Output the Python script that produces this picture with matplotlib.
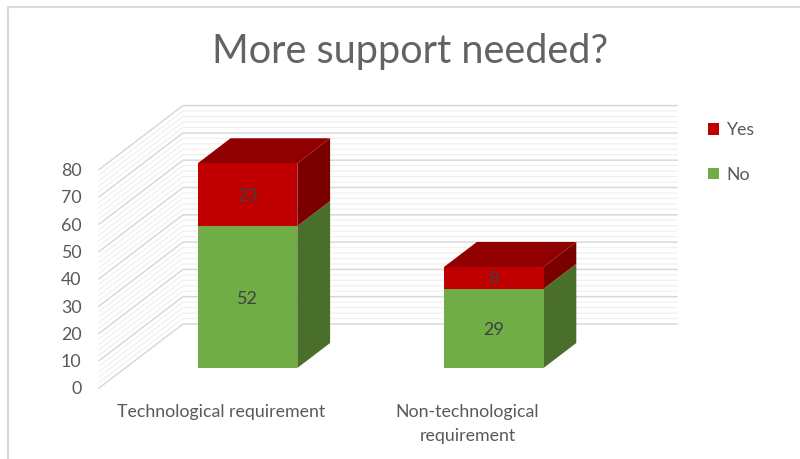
import matplotlib
matplotlib.use("Agg")
import matplotlib.pyplot as plt
from matplotlib.lines import Line2D
from matplotlib.patches import Patch

categories = ["Technological requirement", "Non-technological\nrequirement"]
no_values = [52, 29]
yes_values = [23, 8]
y_ticks = [0, 10, 20, 30, 40, 50, 60, 70, 80]
title = "More support needed?"

W, H = 800, 459
plt.rcParams["font.family"] = ["Lato", "DejaVu Sans"]
fig = plt.figure(figsize=(W / 100, H / 100), dpi=100, facecolor="white")

# plot box in pixels: left, right, top, bottom
L, R, T, B = 99, 677, 105, 388
PX_PER_UNIT = 2.73
ax = fig.add_axes([L / W, 1 - B / H, (R - L) / W, (B - T) / H])
ax.set_xlim(L, R)
ax.set_ylim(0, (B - T) / PX_PER_UNIT)
ax.patch.set_visible(False)
for s in ax.spines.values():
    s.set_visible(False)

# oblique projection: depth d in [0, 1]
WALL_DX, WALL_DY = 84, 64 / PX_PER_UNIT


def proj(x, v, d):
    return x + WALL_DX * d, v + WALL_DY * d


# gridlines on side wall and back wall
for v in range(0, 81, 2):
    major = v % 10 == 0
    c = "#d9d9d9" if major else "#f0f0f0"
    lw = 1.1 if major else 0.9
    x0, y0 = proj(L, v, 0)
    x1, y1 = proj(L, v, 1)
    ax.plot([x0, x1, R], [y0, y1, y1], color=c, lw=lw, zorder=2 if major else 1,
            solid_joinstyle="miter", clip_on=False)

# 3D stacked bars
BAR_W = 99.5
D0, D1 = 0.3125, 0.703
centers = [221.3, 467.5]


def box(cx, v0, v1, front, side, top=None):
    xl, xr = cx - BAR_W / 2, cx + BAR_W / 2
    a = proj(xl, v0, D0)
    b = proj(xr, v0, D0)
    c = proj(xr, v1, D0)
    d = proj(xl, v1, D0)
    e = proj(xr, v0, D1)
    f = proj(xr, v1, D1)
    g = proj(xl, v1, D1)
    ax.fill(*zip(a, b, c, d), color=front, lw=0, zorder=5)
    ax.fill(*zip(b, e, f, c), color=side, lw=0, zorder=4)
    if top:
        ax.fill(*zip(d, c, f, g), color=top, lw=0, zorder=4)


LABEL_NUDGE = 1.5 / PX_PER_UNIT
for cx, n, y in zip(centers, no_values, yes_values):
    box(cx, 0, n, "#70AD47", "#4A6F2B")
    box(cx, n, n + y, "#C00000", "#7A0000", "#900000")
    tx = proj(cx, 0, D0)[0]
    ax.text(tx, proj(cx, n / 2, D0)[1] - LABEL_NUDGE, str(n), ha="center", va="center",
            fontsize=13, color="#404040", zorder=6)
    ax.text(tx, proj(cx, n + y / 2, D0)[1] - LABEL_NUDGE, str(y), ha="center", va="center",
            fontsize=13, color="#404040", zorder=6)

# axis labels
ax.set_yticks(y_ticks)
ax.set_yticklabels([str(t) for t in y_ticks], fontsize=12.8, color="#595959")
ax.set_xticks(centers)
ax.set_xticklabels(categories, fontsize=12.8, color="#595959", linespacing=1.62)
ax.tick_params(axis="y", length=0, pad=12.5)
ax.tick_params(axis="x", length=0, pad=11.5)
ax.grid(False)

ax.set_title(title, fontsize=28.5, color="#636363", x=(410 - L) / (R - L), pad=30.5)

# legend
handles = [Patch(facecolor="#C00000", label="Yes"), Patch(facecolor="#70AD47", label="No")]
fig.legend(handles=handles, loc="upper left", bbox_to_anchor=(701 / W, 1 - 115 / H),
           frameon=False, fontsize=12.8, labelcolor="#595959", handlelength=0.62,
           handleheight=0.62, handletextpad=0.4, labelspacing=1.6, borderpad=0.4,
           borderaxespad=0)

# outer chart border (top and left only are in frame)
fig.add_artist(Line2D([7.5 / W, 7.5 / W, 1], [0, 1 - 6.5 / H, 1 - 6.5 / H],
                      color="#d9d9d9", lw=1.5, transform=fig.transFigure,
                      solid_joinstyle="miter"))

fig.savefig("out.png", dpi=100)
